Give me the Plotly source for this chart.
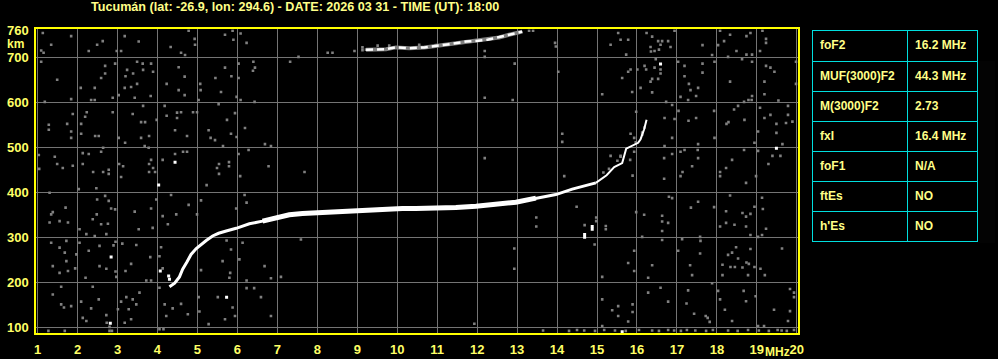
import plotly.graph_objects as go

# ---------------- data ----------------
title_text = "Tucumán (lat: -26.9, lon: 294.6) - DATE: 2026 03 31 - TIME (UT): 18:00"

# F2 layer (ordinary) trace
f2_freq = [4.30, 4.43, 4.55, 4.63, 4.73, 4.84, 4.97, 5.09, 5.22, 5.38, 5.53, 5.72, 5.97, 6.30,
           6.63, 6.97, 7.30, 7.63, 8.05, 8.47, 8.88, 9.30, 9.72, 10.13, 10.47, 10.97, 11.47,
           11.97, 12.47, 12.97, 13.47, 13.97, 14.38, 14.72, 14.97, 15.24, 15.43, 15.63, 15.73,
           16.03, 16.09, 16.18, 16.24]
f2_height = [190, 198, 212, 229, 244, 262, 275, 284, 293, 303, 309, 314, 320, 330,
             336, 344, 350, 353, 355, 358, 360, 361, 363, 364, 364, 364, 366,
             369, 373, 378, 387, 395, 407, 416, 421, 438, 456, 465, 497,
             510, 518, 540, 561]

# second hop trace
hop2_freq = [9.22, 9.43, 9.72, 9.97, 10.30, 10.68, 11.05, 11.38, 11.72, 11.97, 12.26, 12.55, 12.80, 13.13]
hop2_height = [717, 717, 718, 722, 720, 722, 726, 730, 735, 736, 739, 744, 750, 757]

# isolated strong echoes
spot_freq = [4.07, 4.28, 4.30, 4.03, 2.84, 5.73, 2.82, 4.44, 16.59, 19.49, 15.63, 14.69, 14.69, 14.88, 14.88]
spot_height = [225, 214, 207, 416, 256, 167, 109, 467, 685, 498, 90, 300, 306, 318, 324]

# weak echoes / noise
noise_freq = [
    1.13, 1.84, 1.34, 1.09, 1.15, 2.28, 2.49, 2.63, 3.18, 3.53, 2.98, 3.09, 4.33, 4.59, 4.69, 4.93,
    4.94, 4.78, 5.69, 5.88, 5.90, 6.08, 6.23, 1.09, 1.49, 1.84, 2.69, 2.94, 2.69, 2.59, 2.43, 2.08,
    2.34, 2.43, 2.88, 3.03, 3.24, 3.39, 3.49, 3.63, 3.64, 3.84, 3.89, 3.20, 3.34, 3.18, 3.49, 3.43,
    3.83, 4.53, 4.68, 4.23, 4.53, 4.68, 5.07, 5.08, 5.45, 5.59, 5.69, 5.85, 6.03, 6.40, 6.44, 6.39,
    6.03, 5.98, 6.08, 6.43, 7.32, 1.18, 5.03, 5.53, 1.88, 2.19, 2.23, 2.09, 1.74, 1.28, 1.28, 1.84,
    1.84, 2.09, 2.44, 2.53, 2.88, 3.03, 3.38, 3.59, 3.69, 3.64, 3.59, 3.79, 3.98, 3.19, 3.68, 3.78,
    4.18, 4.23, 4.49, 4.49, 4.59, 4.89, 4.99, 4.44, 4.74, 5.28, 5.33, 5.44, 5.74, 5.84, 5.94, 5.98,
    6.19, 5.64, 6.69, 6.84, 1.03, 1.43, 1.49, 1.63, 1.88, 2.13, 2.13, 2.28, 2.59, 2.64, 2.39, 2.64,
    2.78, 2.78, 3.09, 3.14, 3.04, 3.79, 3.84, 3.89, 3.94, 3.79, 4.13, 4.44, 4.64, 4.74, 5.54, 5.49,
    5.79, 5.79, 5.54, 6.03, 6.28, 6.78, 6.07, 1.04,
    7.53, 8.26, 8.38, 8.93, 9.13, 9.13, 12.19, 12.19, 12.94, 12.19, 12.89, 12.19, 7.68, 13.95,
    9.22, 9.51, 9.80, 10.22, 10.55, 10.97, 11.30, 11.63, 12.05, 12.43, 13.30, 13.40,
    15.53, 15.34, 15.59, 15.78, 15.73, 16.24, 16.38, 16.53, 16.63, 16.78, 16.59, 16.34, 16.35, 16.44,
    16.55, 16.47, 16.84, 16.94, 17.64, 17.88, 18.03, 18.08, 18.18, 18.33, 18.49, 18.28, 18.74, 18.74,
    18.84, 18.88, 19.08, 19.14, 19.23, 19.23, 13.97,
    14.03, 15.63, 15.78, 15.84, 16.01, 16.19, 16.23, 16.44, 16.59, 16.59, 16.38, 16.53, 16.34, 16.09,
    16.38, 15.88, 15.13, 17.03, 17.19, 17.19, 17.64, 17.64, 17.30, 17.34, 17.53, 17.09, 17.28, 17.48,
    17.94, 18.33, 18.63, 18.88, 18.88, 18.79, 18.68, 19.19, 19.19, 19.23, 19.34, 19.44, 19.98, 19.98,
    16.73, 16.88,
    14.13, 14.13, 15.84, 15.93, 15.98, 16.13, 16.13, 16.19, 16.69, 16.94, 16.88, 16.69, 17.04, 17.29,
    17.48, 17.53, 17.93, 18.24, 18.29, 18.53, 18.69, 17.94, 18.43, 18.94, 19.08, 19.19, 19.34, 19.49,
    19.49, 19.54, 19.64, 19.73, 19.78, 19.78, 19.89, 19.03, 18.87,
    15.34, 15.59, 15.93, 15.83, 15.89, 16.68, 16.88, 16.68, 17.09, 17.19, 17.52, 17.53, 17.38, 17.09,
    17.14, 18.08, 18.08, 18.23, 18.38, 18.68, 19.03, 19.39, 19.59, 19.29, 18.98, 14.18,
    15.97, 15.59, 15.51, 15.30, 15.16,
    14.69, 14.98, 14.98, 15.22, 15.22,
    13.48, 13.48, 12.93, 12.93, 14.49, 14.94, 15.13, 15.78, 15.93, 15.93, 15.98, 16.18, 16.13, 16.28,
    16.38, 16.63, 16.63, 16.63, 16.63, 16.78, 16.88, 16.80, 17.03, 17.13, 17.35, 17.53, 17.58, 17.58,
    17.33, 17.38, 17.59, 17.93, 18.23, 18.08, 18.23, 18.44, 18.64, 18.73, 18.84, 18.73, 18.84, 18.33,
    18.73, 18.94, 19.13, 19.15, 19.13, 19.23, 19.03, 19.63, 18.28, 18.38, 18.48, 18.53, 18.34, 18.45,
    18.64, 18.74, 18.80, 18.84, 18.94, 19.09, 19.20, 18.78, 18.14, 18.14, 17.88, 18.03, 18.08, 18.20,
    18.38, 18.67, 18.73, 18.97, 19.43, 19.83, 19.93, 19.93, 19.83, 19.78, 19.18, 19.03, 17.77, 17.72,
    17.82, 17.24, 17.43, 17.28, 16.78, 16.59, 16.28, 15.89, 15.89, 15.78, 15.53, 15.53, 15.38, 15.13,
    15.13, 11.93,
    13.65, 14.30, 14.50, 14.68, 14.95, 15.18, 15.45, 15.72, 16.05, 16.38, 16.55, 16.78, 16.93, 17.10,
    17.25, 17.46, 17.73, 17.90, 18.28, 18.52, 18.78, 19.05, 19.30, 19.52, 19.62, 19.75, 19.93,
    2.03, 2.47, 2.69, 2.49, 2.78, 2.94, 2.84, 1.70, 1.38, 1.30, 1.55, 1.76, 2.38, 2.48, 2.59, 2.76,
    2.05, 2.22, 2.43, 2.72, 2.95, 2.90, 2.55, 2.28, 2.05, 1.72, 1.55, 1.34, 1.68, 1.97, 1.72, 1.38,
    1.55, 1.76, 1.94, 2.20, 2.55, 2.72, 2.95, 2.97, 1.59, 1.38, 1.59, 1.66, 1.84, 2.09, 2.34, 2.13,
    2.22, 2.38, 2.53, 2.72, 2.73, 2.80, 3.01, 3.09, 3.22, 3.28, 3.38, 3.47, 3.34, 3.18, 3.55, 3.72,
    3.84, 4.05, 4.18, 4.38, 4.22, 4.59, 4.76, 5.03, 5.05, 5.28, 5.51, 5.69, 5.88, 5.94, 6.23, 6.42,
    6.59, 6.84, 7.09, 6.84, 6.68, 6.23, 5.82, 5.80, 5.63, 5.09, 6.05, 6.13, 5.84, 5.73, 7.59, 5.97,
    4.78, 4.47, 4.26, 4.13, 3.84, 3.97, 3.43, 3.53, 3.88, 4.09, 4.05, 4.13, 3.82, 3.47, 3.34, 3.20,
    3.12, 5.09, 4.99, 5.23, 4.34, 6.18, 6.23, 1.30, 1.34, 2.80, 2.86, 1.27, 1.68, 4.05, 4.15,
]
noise_height = [
    754, 747, 728, 715, 710, 714, 728, 736, 747, 735, 714, 714, 723, 710, 705, 741,
    728, 759, 750, 759, 739, 753, 732, 690, 650, 607, 681, 686, 664, 654, 632, 632,
    605, 605, 610, 616, 672, 664, 690, 686, 672, 686, 668, 658, 634, 632, 641, 610,
    614, 678, 657, 641, 627, 616, 641, 627, 654, 623, 677, 658, 654, 690, 677, 670,
    686, 612, 605, 601, 690, 601, 605, 596, 574, 568, 578, 552, 552, 550, 539, 535,
    521, 530, 525, 525, 578, 521, 574, 556, 556, 592, 521, 525, 561, 510, 503, 499,
    592, 570, 577, 565, 578, 578, 578, 538, 525, 538, 521, 516, 561, 530, 576, 523,
    543, 503, 507, 503, 483, 479, 463, 454, 459, 463, 487, 485, 490, 499, 445, 445,
    450, 441, 434, 458, 463, 463, 472, 454, 445, 445, 472, 485, 490, 490, 463, 454,
    467, 458, 441, 485, 494, 458, 436, 452,
    701, 710, 710, 714, 722, 716, 714, 701, 686, 610, 605, 476, 445, 732,
    717, 726, 726, 722, 728, 727, 730, 733, 737, 742, 759, 759,
    754, 728, 739, 739, 706, 754, 746, 736, 736, 736, 728, 723, 713, 714,
    717, 696, 723, 759, 727, 705, 727, 759, 736, 750, 714, 701, 706, 747,
    754, 706, 714, 759, 741, 732, 724,
    668, 654, 668, 673, 673, 681, 673, 677, 673, 664, 652, 652, 646, 632,
    622, 623, 618, 690, 681, 658, 686, 666, 641, 627, 632, 612, 605, 614,
    690, 646, 696, 690, 614, 605, 601, 646, 618, 681, 677, 668, 690, 641,
    601, 594,
    530, 512, 530, 521, 579, 533, 528, 544, 565, 563, 521, 503, 581, 559,
    565, 507, 581, 552, 556, 592, 561, 521, 584, 510, 588, 565, 572, 552,
    532, 604, 507, 554, 572, 592, 557, 535, 605,
    481, 481, 490, 472, 437, 476, 485, 430, 490, 494, 494, 476, 458, 436,
    445, 445, 436, 454, 472, 494, 492, 481, 481, 463, 436, 436,
    511, 479, 470, 452, 444,
    327, 336, 344, 318, 325,
    344, 324, 275, 230, 368, 284, 212, 243, 270, 225, 356, 350, 301, 210,
    238, 348, 335, 314, 294, 332, 387, 390, 270, 296, 366, 379, 301, 264,
    238, 216, 292, 367, 358, 324, 332, 328, 354, 346, 352, 324, 305, 393,
    421, 368, 388, 363, 305, 319, 301, 275, 261, 266, 278, 253, 234, 234,
    233, 244, 241, 274, 234, 230, 216, 216, 239, 216, 198, 181, 162, 139,
    114, 181, 158, 169, 139, 185, 177, 167, 136, 114, 103, 103, 121, 125,
    112, 153, 130, 182, 157, 188, 177, 151, 134, 113, 147, 125, 138, 103,
    162, 108,
    93, 92, 94, 93, 92, 94, 93, 92, 94, 93, 92, 94, 93, 92,
    94, 93, 92, 94, 93, 92, 94, 93, 92, 94, 93, 92, 94,
    407, 409, 392, 384, 381, 362, 364, 366, 356, 333, 336, 333, 340, 351, 329, 330,
    318, 307, 303, 307, 290, 282, 281, 270, 288, 292, 277, 288, 266, 262, 247, 236,
    221, 225, 231, 210, 236, 230, 224, 212, 190, 173, 151, 144, 147, 157, 142, 121,
    114, 190, 162, 127, 110, 101, 140, 157, 167, 140, 162, 151, 118, 110, 177, 204,
    204, 188, 151, 142, 125, 152, 129, 167, 135, 107, 167, 118, 144, 125, 187, 187,
    167, 125, 212, 209, 236, 204, 221, 210, 247, 227, 251, 288, 273, 293, 295, 364,
    372, 351, 329, 347, 364, 384, 357, 318, 321, 278, 258, 231, 256, 283, 241, 225,
    286, 382, 351, 416, 394, 394, 377, 399, 351, 92, 92, 92, 92, 96, 96,
]

y_ticks = [100, 200, 300, 400, 500, 600, 700, 760]
x_ticks = list(range(1, 21))

param_names = ["foF2", "MUF(3000)F2", "M(3000)F2", "fxI", "foF1", "ftEs", "h'Es"]
param_values = ["16.2 MHz", "44.3 MHz", "2.73", "16.4 MHz", "N/A", "NO", "NO"]

# ---------------- figure ----------------
W, H = 998, 359
YEL = "#ffff66"
TXT = "#ffff88"
GRAY = "#808080"
FONT = "Liberation Sans"


def cell(s):
    return "<b>" + s.replace(" ", "\u00a0") + "</b>"


fig = go.Figure()

fig.add_trace(go.Scatter(
    x=noise_freq, y=noise_height, mode="markers",
    marker=dict(symbol="square", size=2.6, color=GRAY, line=dict(width=0)),
    hoverinfo="skip"))

fig.add_trace(go.Scatter(
    x=hop2_freq, y=hop2_height, mode="lines",
    line=dict(color=GRAY, width=4), hoverinfo="skip"))
fig.add_trace(go.Scatter(
    x=hop2_freq, y=hop2_height, mode="lines",
    line=dict(color="white", width=2.5, dash="7px,4px"), hoverinfo="skip"))

low = slice(0, 35)
fig.add_trace(go.Scatter(
    x=f2_freq[low], y=f2_height[low], mode="lines",
    line=dict(color="white", width=3), hoverinfo="skip"))
flat = slice(14, 31)
fig.add_trace(go.Scatter(
    x=f2_freq[flat], y=f2_height[flat], mode="lines",
    line=dict(color="white", width=5), hoverinfo="skip"))
top = slice(34, None)
fig.add_trace(go.Scatter(
    x=f2_freq[top], y=f2_height[top], mode="lines",
    line=dict(color="white", width=2), hoverinfo="skip"))

fig.add_trace(go.Scatter(
    x=spot_freq, y=spot_height, mode="markers",
    marker=dict(symbol="square", size=3, color="white", line=dict(width=0)),
    hoverinfo="skip"))

fig.add_trace(go.Table(
    domain=dict(x=[812 / W, 978 / W], y=[(H - 243) / H, (H - 30) / H]),
    columnwidth=[95, 70],
    header=dict(values=[cell(param_names[0]), cell(param_values[0])],
                height=31, align="left", fill_color="black",
                line=dict(color="#00dede", width=1),
                font=dict(family=FONT, size=12, color=TXT)),
    cells=dict(values=[[cell(v) for v in param_names[1:]],
                       [cell(v) for v in param_values[1:]]],
               height=30, align="left", fill_color="black",
               line=dict(color="#00dede", width=1),
               font=dict(family=FONT, size=12, color=TXT)),
))

axis_font = dict(family=FONT, size=13, color=YEL, weight="bold")

fig.update_layout(
    width=W, height=H,
    margin=dict(l=0, r=0, t=0, b=0),
    paper_bgcolor="black", plot_bgcolor="black",
    showlegend=False,
    xaxis=dict(domain=[36 / W, 798 / W], range=[0.96, 20.03],
               tickvals=x_ticks, ticktext=[str(v) for v in x_ticks],
               showgrid=True, gridcolor="#747474", gridwidth=1,
               zeroline=False, showline=True, linecolor="#ffff00", linewidth=1.5,
               mirror=True, ticks="outside", ticklen=3, tickcolor="black",
               tickfont=axis_font, automargin=False),
    yaxis=dict(domain=[(H - 333.3) / H, (H - 29.3) / H], range=[86.7, 762.2],
               tickvals=y_ticks, ticktext=[str(v) for v in y_ticks],
               showgrid=True, gridcolor="#747474", gridwidth=1,
               zeroline=False, showline=True, linecolor="#ffff00", linewidth=1.5,
               mirror=True, ticks="outside", ticklen=3, tickcolor="black",
               tickfont=axis_font, automargin=False),
    annotations=[
        dict(text=f"<b>{title_text}</b>", x=295 / W, y=(H - 7) / H, xref="paper", yref="paper",
             xanchor="center", yanchor="middle", showarrow=False,
             font=dict(family=FONT, size=12.6, color=TXT)),
        dict(text="<b>km</b>", x=15 / W, y=(H - 44) / H, xref="paper", yref="paper",
             xanchor="center", yanchor="middle", showarrow=False,
             font=dict(family=FONT, size=12, color=YEL)),
        dict(text="<b>MHz</b>", x=777 / W, y=(H - 352) / H, xref="paper", yref="paper",
             xanchor="center", yanchor="middle", showarrow=False,
             font=dict(family=FONT, size=12, color=YEL)),
    ],
)

fig.write_html("out.html")
